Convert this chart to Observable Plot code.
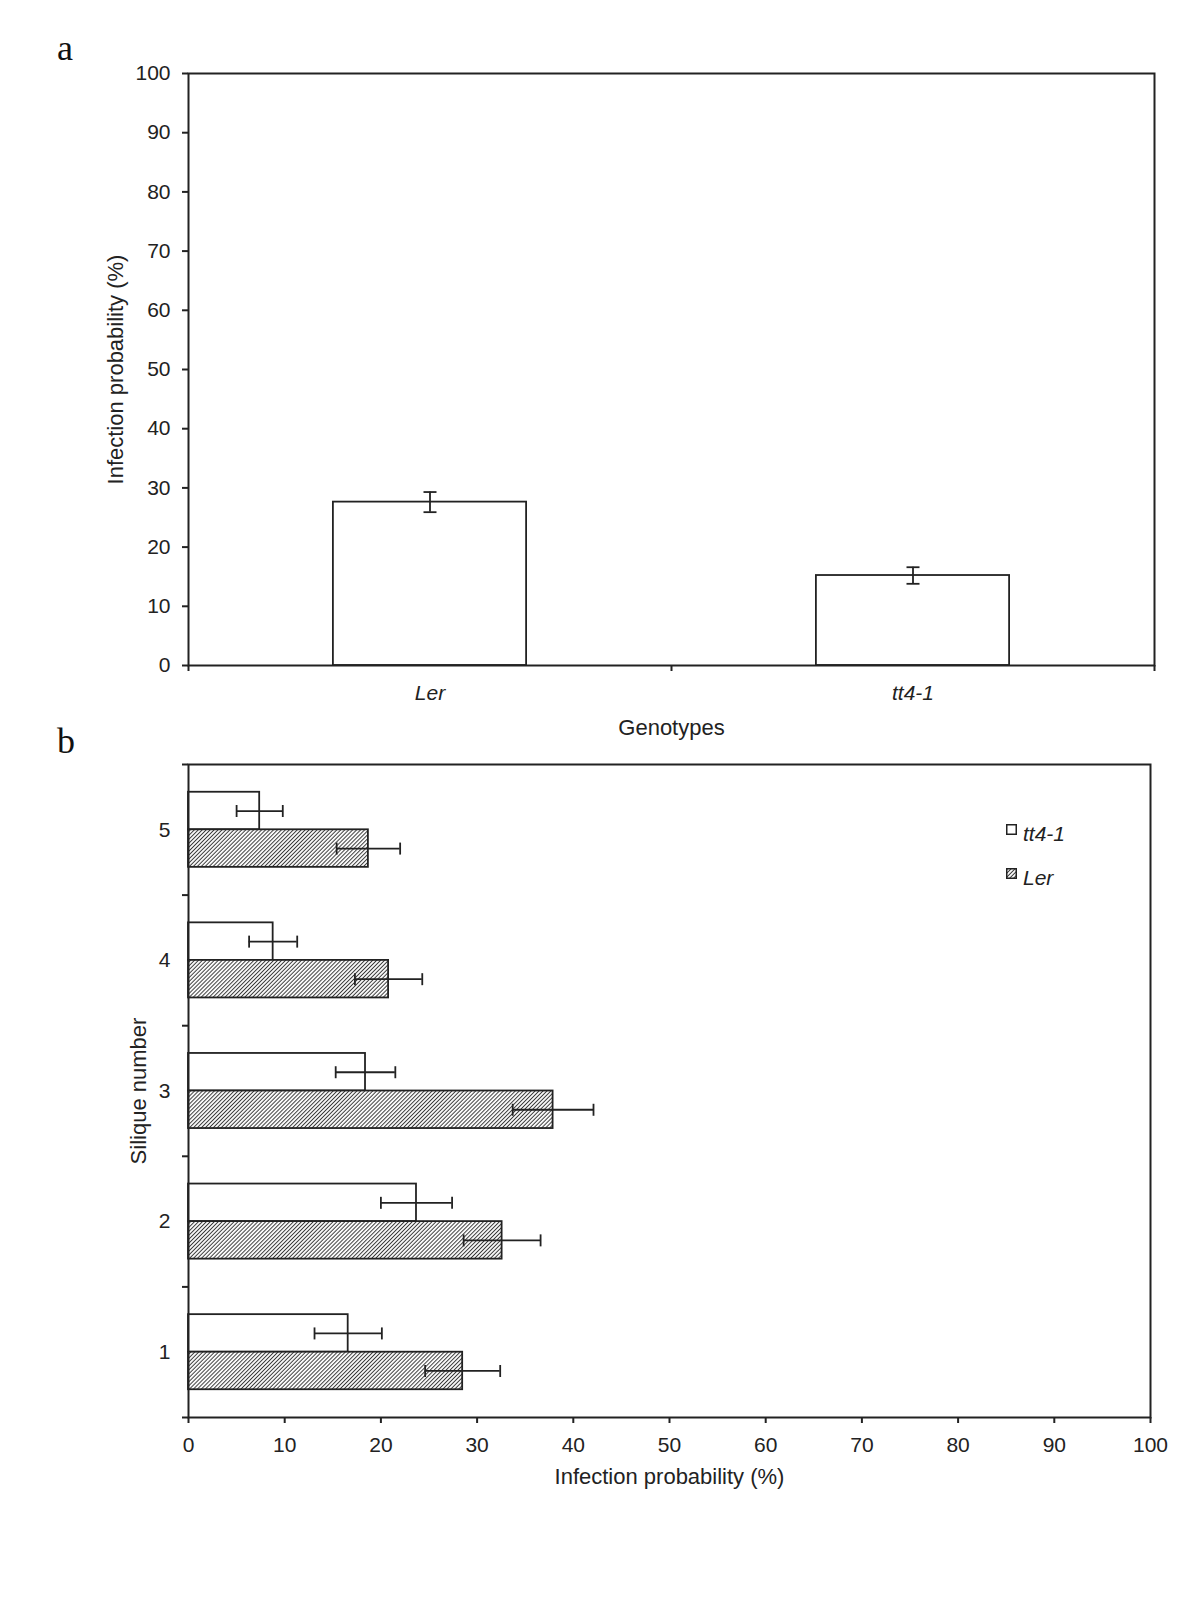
<!DOCTYPE html>
<html>
<head>
<meta charset="utf-8">
<script src="https://cdn.jsdelivr.net/npm/d3@7"></script>
<script src="https://cdn.jsdelivr.net/npm/@observablehq/plot@0.6"></script>
<style>
  body { margin: 0; background: #fff; }
  #wrap { position: relative; width: 1200px; height: 1600px; font-family: "Liberation Sans", Arial, Helvetica, sans-serif; color: #222; }
  #wrap svg { display: block; }
  .panel { position: absolute; font-family: "Liberation Serif", "Times New Roman", serif; font-size: 36px; line-height: 36px; color: #111; }
  .lg-text { position: absolute; font-size: 21px; line-height: 21px; font-style: italic; color: #222; white-space: nowrap; }
  .lg-sw { position: absolute; width: 11px; height: 11px; }
</style>
</head>
<body>
<div id="wrap">
  <div id="chartA"></div>
  <div id="chartB"></div>
  <div class="panel" style="left:57px;top:30px;">a</div>
  <div class="panel" style="left:57px;top:723px;">b</div>
  <svg class="lg-sw" style="left:1006px;top:824px;" width="11" height="11"><rect x="0.75" y="0.75" width="9.5" height="9.5" fill="white" stroke="#222" stroke-width="1.5"/></svg>
  <div class="lg-text" style="left:1023px;top:823px;">tt4-1</div>
  <svg class="lg-sw" style="left:1006px;top:868px;" width="11" height="11"><rect x="0.75" y="0.75" width="9.5" height="9.5" fill="url(#hatch)" stroke="#222" stroke-width="1.5"/></svg>
  <div class="lg-text" style="left:1023px;top:867px;">Ler</div>
</div>
<script>
// ---------- Data ----------
// Panel a: infection probability by genotype
const genotypes = ["Ler", "tt4-1"];
const meanA = [27.6, 15.2];
const errA = [1.7, 1.4];
const yTicksA = [0, 10, 20, 30, 40, 50, 60, 70, 80, 90, 100];

// Panel b: infection probability by silique number
const siliques = [1, 2, 3, 4, 5];
const seriesB = ["tt4-1", "Ler"];
const tt4Mean = [16.6, 23.7, 18.4, 8.8, 7.4];
const tt4Err = [3.5, 3.7, 3.1, 2.5, 2.4];
const lerMean = [28.5, 32.6, 37.9, 20.8, 18.7];
const lerErr = [3.9, 4.0, 4.2, 3.5, 3.3];
const xTicksB = [0, 10, 20, 30, 40, 50, 60, 70, 80, 90, 100];

// ---------- Shared style ----------
const FONT = '"Liberation Sans", Arial, Helvetica, sans-serif';
const INK = "#222";
const FS = 21;
const hCap = { draw(ctx, size) { const r = Math.sqrt(size / Math.PI); ctx.moveTo(-r, 0); ctx.lineTo(r, 0); } };
const vCap = { draw(ctx, size) { const r = Math.sqrt(size / Math.PI); ctx.moveTo(0, -r); ctx.lineTo(0, r); } };

// ---------- Panel a ----------
const barHalfA = 0.2;
const dataA = genotypes.map((g, i) => ({
  g, pos: i + 0.5, mean: meanA[i], lo: meanA[i] - errA[i], hi: meanA[i] + errA[i]
}));

const plotA = Plot.plot({
  width: 1200, height: 745,
  marginTop: 73, marginBottom: 80, marginLeft: 188, marginRight: 46,
  style: { fontFamily: FONT, fontSize: FS + "px", color: INK, background: "transparent", overflow: "visible" },
  x: { domain: [0, genotypes.length] },
  y: { domain: [0, 100] },
  marks: [
    Plot.rect(dataA, { x1: d => d.pos - barHalfA, x2: d => d.pos + barHalfA, y1: d => 0, y2: "mean", fill: "white", stroke: INK, strokeWidth: 1.8 }),
    Plot.ruleX(dataA, { x: "pos", y1: "lo", y2: "hi", stroke: INK, strokeWidth: 1.8 }),
    Plot.dot(dataA, { x: "pos", y: "lo", symbol: hCap, r: 6.5, stroke: INK, strokeWidth: 1.8, fill: "none" }),
    Plot.dot(dataA, { x: "pos", y: "hi", symbol: hCap, r: 6.5, stroke: INK, strokeWidth: 1.8, fill: "none" }),
    Plot.axisY({ ticks: yTicksA, tickSize: 6, tickPadding: 12, strokeWidth: 2, fontSize: FS, tickFormat: d => String(d), label: null }),
    Plot.axisX({ ticks: d3.range(genotypes.length + 1), tickSize: 6, tickFormat: () => "", strokeWidth: 2, label: null }),
    Plot.axisX({ ticks: dataA.map(d => d.pos), tickSize: 0, tickPadding: 20, fontSize: FS, tickFormat: d => genotypes[Math.floor(d)], fontStyle: "italic", label: null }),
    Plot.frame({ stroke: INK, strokeWidth: 2 }),
    Plot.text(["Genotypes"], { text: d => d, frameAnchor: "bottom", dy: 69, lineAnchor: "bottom", textAnchor: "middle", fontSize: 22 }),
    Plot.text(["Infection probability (%)"], { text: d => d, frameAnchor: "left", dx: -73, rotate: -90, lineAnchor: "middle", textAnchor: "middle", fontSize: 22 })
  ]
});
document.getElementById("chartA").append(plotA);

// ---------- Panel b ----------
const barH = 0.2875;
const dataB = siliques.flatMap((s, i) => [
  { s, series: seriesB[0], v: tt4Mean[i], e: tt4Err[i], side: 1 },
  { s, series: seriesB[1], v: lerMean[i], e: lerErr[i], side: -1 }
]).map(d => ({ ...d, y1: d.s, y2: d.s + d.side * barH, yc: d.s + d.side * barH / 2, lo: d.v - d.e, hi: d.v + d.e }));

const plotB = Plot.plot({
  width: 1200, height: 855,
  marginTop: 19, marginBottom: 183, marginLeft: 188, marginRight: 50,
  style: { fontFamily: FONT, fontSize: FS + "px", color: INK, background: "transparent", overflow: "visible" },
  x: { domain: [0, 100] },
  y: { domain: [siliques[0] - 0.5, siliques[siliques.length - 1] + 0.5] },
  marks: [
    Plot.rect(dataB, { filter: d => d.series === "tt4-1", x1: d => 0, x2: "v", y1: "y1", y2: "y2", fill: "white", stroke: INK, strokeWidth: 1.8 }),
    Plot.rect(dataB, { filter: d => d.series === "Ler", x1: d => 0, x2: "v", y1: "y1", y2: "y2", fill: "url(#hatch)", stroke: INK, strokeWidth: 1.8 }),
    Plot.ruleY(dataB, { y: "yc", x1: "lo", x2: "hi", stroke: INK, strokeWidth: 1.8 }),
    Plot.dot(dataB, { x: "lo", y: "yc", symbol: vCap, r: 6, stroke: INK, strokeWidth: 1.8, fill: "none" }),
    Plot.dot(dataB, { x: "hi", y: "yc", symbol: vCap, r: 6, stroke: INK, strokeWidth: 1.8, fill: "none" }),
    Plot.axisY({ ticks: siliques, tickSize: 0, tickPadding: 18, fontSize: FS, tickFormat: d => String(d), label: null }),
    Plot.axisY({ ticks: siliques.map(s => s - 0.5).concat(siliques[siliques.length - 1] + 0.5), tickSize: 6, tickFormat: () => "", strokeWidth: 2, label: null }),
    Plot.axisX({ ticks: xTicksB, tickSize: 6, tickPadding: 14, strokeWidth: 2, fontSize: FS, tickFormat: d => String(d), label: null }),
    Plot.frame({ stroke: INK, strokeWidth: 2 }),
    Plot.text(["Infection probability (%)"], { text: d => d, frameAnchor: "bottom", dy: 66, lineAnchor: "bottom", textAnchor: "middle", fontSize: 22 }),
    Plot.text(["Silique number"], { text: d => d, frameAnchor: "left", dx: -50, rotate: -90, lineAnchor: "middle", textAnchor: "middle", fontSize: 22 })
  ]
});
// hatch pattern definition
const ns = "http://www.w3.org/2000/svg";
const defs = document.createElementNS(ns, "defs");
defs.innerHTML = '<pattern id="hatch" patternUnits="userSpaceOnUse" width="2.8" height="2.8" patternTransform="rotate(45)">' +
  '<rect width="2.8" height="2.8" fill="white"/>' +
  '<line x1="1.4" y1="0" x2="1.4" y2="2.8" stroke="#3a3a3a" stroke-width="1.0"/></pattern>';
plotB.prepend(defs);
document.getElementById("chartB").append(plotB);
</script>
</body>
</html>
